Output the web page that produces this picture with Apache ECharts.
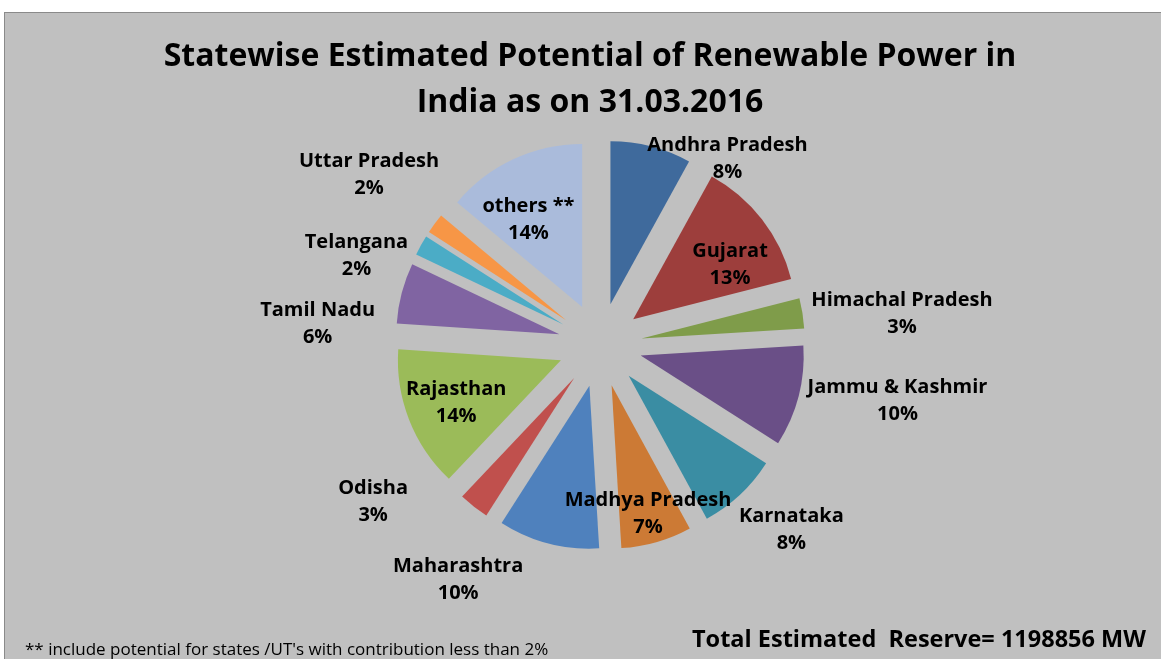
<!DOCTYPE html>
<html>
<head>
<meta charset="utf-8">
<script src="https://cdn.jsdelivr.net/npm/echarts@6/dist/echarts.min.js"></script>
<style>
  html, body { margin: 0; padding: 0; background: #fff; overflow: hidden; }
  .frame {
    position: absolute; left: 4px; top: 12px; width: 1180px; height: 660px;
    background: #c0c0c0; border: 1px solid #8a8a8a;
  }
  #chart { position: absolute; left: 0; top: 0; width: 1180px; height: 659px; }
</style>
</head>
<body>
<div class="frame"></div>
<div id="chart"></div>
<script>
// 各邦数据 (MW)
const states = ['Andhra Pradesh', 'Gujarat', 'Himachal Pradesh', 'Jammu & Kashmir', 'Karnataka',
  'Madhya Pradesh', 'Maharashtra', 'Odisha', 'Rajasthan', 'Tamil Nadu', 'Telangana',
  'Uttar Pradesh', 'others **'];
const potentialMW = [96000, 156000, 36000, 120000, 96000, 84000, 120000, 36000, 168000,
  72000, 24000, 24000, 166856];
const colors = ['#3f6a9c', '#9d3e3c', '#7f9c4a', '#6a4f87', '#3a8da3', '#cc7a35', '#4f81bd',
  '#c0504d', '#9bbb59', '#8064a2', '#4bacc6', '#f79646', '#aabbdb'];
// 标签微调 (相对于扇区内部默认位置)
const labelNudge = [[96, -64], [30, -3], [177, -12], [175, 24], [105, 92], [13, 47],
  [-110, 112], [-149, 57], [-26, 12], [-160, 11], [-133, -28], [-129, -95], [-18, -11]];

const font = '"Open Sans", Lato, sans-serif';
const chart = echarts.init(document.getElementById('chart'));

const option = {
  animation: false,
  title: {
    text: 'Statewise Estimated Potential of Renewable Power in\nIndia as on 31.03.2016',
    left: 'center',
    top: 29,
    textStyle: { fontFamily: font, fontSize: 32, fontWeight: 'bold', color: '#000', lineHeight: 46 }
  },
  graphic: [
    {
      type: 'text', left: 25, top: 642,
      style: { text: "** include potential for states /UT's with contribution less than 2%",
        fontFamily: font, fontSize: 17, fill: '#000' }
    },
    {
      type: 'text', left: 692, top: 628,
      style: { text: 'Total Estimated  Reserve= 1198856 MW',
        fontFamily: font, fontSize: 23.5, fontWeight: 'bold', fill: '#000' }
    }
  ],
  series: [{
    type: 'pie',
    center: [600, 345],
    radius: 163,
    startAngle: 90,
    selectedMode: 'multiple',
    selectedOffset: 42,
    avoidLabelOverlap: false,
    emphasis: { scale: false },
    label: {
      show: true,
      position: 'inside',
      color: '#000',
      fontFamily: font,
      fontSize: 20,
      fontWeight: 'bold',
      lineHeight: 27,
      formatter: p => p.name + '\n' + Math.round(p.percent) + '%'
    },
    labelLine: { show: false },
    labelLayout: p => ({ dx: labelNudge[p.dataIndex][0], dy: labelNudge[p.dataIndex][1] }),
    data: states.map((s, i) => ({
      name: s,
      value: potentialMW[i],
      selected: true,
      itemStyle: { color: colors[i] }
    }))
  }]
};

chart.setOption(option);
</script>
</body>
</html>
